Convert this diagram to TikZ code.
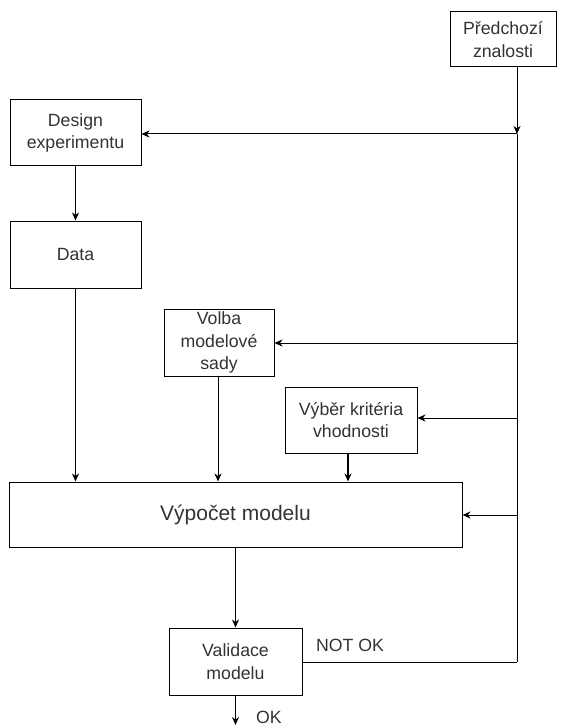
\documentclass[tikz,border=0pt]{standalone}
\usepackage{fontspec}
\setmainfont{Liberation Sans}
\usetikzlibrary{arrows.meta}
\definecolor{txt}{HTML}{333333}
\tikzset{
  box/.style={draw=black, line width=1pt, fill=white, inner sep=0pt, align=center,
    text=txt, font=\fontsize{17.7}{22.5}\selectfont},
  conn/.style={line width=1pt, -{Stealth[length=8pt,width=7pt,inset=2.5pt]}},
  plain/.style={line width=1pt},
  lbl/.style={text=txt, font=\fontsize{17.7}{22.5}\selectfont, inner sep=0pt}
}
\begin{document}
\begin{tikzpicture}[x=1pt,y=1pt]
\useasboundingbox (0,0) rectangle (576,-727);
\fill[white] (0,0) rectangle (576,-727);
\node[box, minimum width=106pt, minimum height=55pt] (pred) at (503,-39.5) {Předchozí\\znalosti};
\node[box, minimum width=131pt, minimum height=66pt] (design) at (75.5,-133) {Design\\experimentu};
\node[box, minimum width=131pt, minimum height=67pt] (data) at (75.5,-254.5) {Data};
\node[box, minimum width=110pt, minimum height=67pt] (volba) at (219,-342.5) {Volba\\modelové\\sady};
\node[box, minimum width=132pt, minimum height=66pt] (vyber) at (351,-420) {Výběr kritéria\\vhodnosti};
\node[box, minimum width=453pt, minimum height=65pt, font=\fontsize{21}{25}\selectfont] (vypocet) at (235.5,-514.5) {Výpočet modelu};
\node[box, minimum width=133pt, minimum height=67pt] (valid) at (235.5,-661.5) {Validace\\modelu};

\coordinate (jtop) at (517,-134);
\coordinate (jvol) at (517,-343);
\coordinate (jvyb) at (517,-418);
\coordinate (jvyp) at (517,-515);
\coordinate (jbot) at (517,-662);
\coordinate (okend) at (235.5,-725);

\draw[conn] ([xshift=14pt]pred.south) -- (jtop);
\draw[plain] (jtop) -- (jbot);
\draw[conn] (jtop) -- (jtop -| design.east);
\draw[conn] (jvol) -- (jvol -| volba.east);
\draw[conn] (jvyb) -- (jvyb -| vyber.east);
\draw[conn] (jvyp) -- (jvyp -| vypocet.east);
\draw[plain] (valid.east |- jbot) -- (jbot);

\draw[conn] (design.south) -- (data.north);
\draw[conn] (data.south) -- (data.south |- vypocet.north);
\draw[conn] ([xshift=-1pt]volba.south) -- ([xshift=-1pt]volba.south |- vypocet.north);
\draw[conn, line width=2pt] ([xshift=-3pt]vyber.south) -- ([xshift=-3pt]vyber.south |- vypocet.north);
\draw[conn] (vypocet.south) -- (valid.north);
\draw[conn] (valid.south) -- (okend);

\node[lbl] (notok) at (350,-645) {NOT OK};
\node[lbl, anchor=west] (ok) at (256,-717) {OK};
\end{tikzpicture}
\end{document}
